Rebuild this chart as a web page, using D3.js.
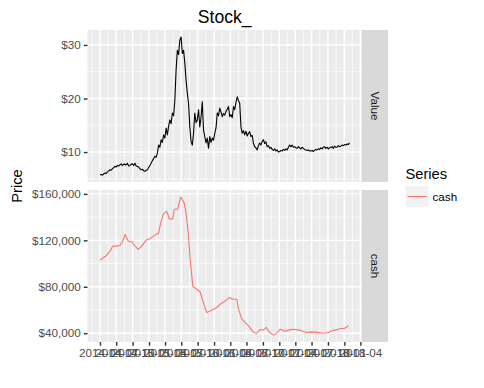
<!DOCTYPE html>
<html>
<head>
<meta charset="utf-8">
<script src="https://cdn.jsdelivr.net/npm/d3@7"></script>
<style>
  body { margin: 0; background: #fff; }
  text { font-family: "Liberation Sans", Arial, sans-serif; }
</style>
</head>
<body>
<svg id="chart" width="484" height="388"></svg>
<script>
// weekly closing value, starting 2014-04-01
var valueStart = "2014-04-01";
var valueWeekly = [
  5.75, 5.8, 5.7, 5.95, 6.1, 6.0, 6.3, 6.5, 6.7, 6.6, 6.9, 7.1, 7.3,
  7.2, 7.5, 7.4, 7.6, 7.8, 7.5, 7.7, 7.75, 7.6, 7.9, 7.4, 7.5,
  7.7, 7.8, 7.5, 7.9, 7.4, 7.3, 7.2, 6.9, 6.7, 6.8, 6.5, 6.4,
  6.6, 6.7, 7.1, 7.5, 7.9, 8.4, 8.8, 9.2, 9.0, 9.8, 11.3, 10.9,
  12.3, 11.8, 13.2, 12.6, 14.5, 13.2, 14.8, 16.0, 15.3, 17.3, 16.8, 19.7,
  25.3, 29.0, 28.2, 30.9, 31.5, 28.4, 29.0, 26.6, 23.4, 21.0, 19.1, 14.7,
  12.0, 11.3, 13.5, 17.3, 15.5, 16.0, 17.9, 14.7, 16.5, 19.4, 14.1, 12.9,
  11.7, 12.6, 10.7, 12.9, 11.8, 12.6, 12.2, 13.5, 14.5, 17.3, 16.8, 18.2,
  17.5, 16.6, 17.2, 16.9, 17.6, 18.0, 18.5, 16.6, 17.0, 16.4, 18.5, 17.9,
  19.3, 20.3, 19.6, 19.1, 14.7, 13.5, 14.0, 13.2, 13.9, 13.0, 13.5, 13.8,
  12.9, 13.1, 11.6, 11.0, 10.8, 10.4, 11.2, 11.7, 11.3, 12.0, 12.3, 11.6,
  11.9, 11.0, 11.2, 10.7, 10.9, 10.5, 10.3, 10.6, 10.2, 10.4, 10.0, 10.1,
  10.3, 10.2, 10.5, 10.3, 10.6, 10.4, 10.9, 11.3, 11.0, 11.3, 10.9, 11.0,
  10.8, 10.7, 11.0, 10.8, 10.6, 10.9, 10.7, 10.5, 10.4, 10.3, 10.4, 10.2,
  10.2, 10.3, 10.1, 10.3, 10.5, 10.4, 10.6, 10.5, 10.8, 10.6, 10.9, 11.0,
  10.7, 10.9, 10.6, 10.8, 10.9, 11.0, 10.7, 11.1, 10.9, 10.9, 11.2, 11.0,
  11.1, 11.3, 11.2, 11.4, 11.3, 11.5, 11.4, 11.7
];

var cashDates = [
  "2014-04-01", "2014-04-19", "2014-05-08", "2014-05-27", "2014-06-11", "2014-07-04",
  "2014-07-22", "2014-08-07", "2014-08-19", "2014-09-07", "2014-09-26", "2014-10-15",
  "2014-11-02", "2014-11-21", "2014-12-16", "2015-01-07", "2015-01-26", "2015-02-14",
  "2015-02-23", "2015-03-08", "2015-03-23", "2015-04-11", "2015-04-25", "2015-05-14",
  "2015-05-22", "2015-06-11", "2015-06-28", "2015-07-17", "2015-07-28", "2015-08-10",
  "2015-08-20", "2015-09-04", "2015-09-26", "2015-10-15", "2015-11-02", "2015-11-21",
  "2015-12-10", "2015-12-29", "2016-01-17", "2016-02-04", "2016-03-03", "2016-03-27",
  "2016-04-15", "2016-05-08", "2016-05-17", "2016-06-05", "2016-07-12", "2016-08-10",
  "2016-08-29", "2016-09-12", "2016-10-05", "2016-10-20", "2016-11-07", "2016-11-30",
  "2016-12-22", "2017-01-06", "2017-02-03", "2017-02-27", "2017-03-21", "2017-04-24",
  "2017-06-04", "2017-07-03", "2017-07-31", "2017-09-06", "2017-10-04", "2017-10-23",
  "2017-11-16", "2017-12-09", "2017-12-31", "2018-01-24"
];
var cashValues = [
  103000, 105000, 107000, 110700, 115000, 115000,
  115600, 119300, 125000, 119300, 118800, 115000,
  112200, 115000, 120200, 121400, 123600, 125700,
  125700, 135000, 142800, 145000, 138500, 138500,
  146500, 147100, 157400, 152300, 143700, 125000,
  103600, 80200, 77900, 75500, 66400, 57900,
  59200, 60700, 62100, 65000, 67800, 70700,
  69300, 69300, 60700, 52100, 46400, 40700,
  40000, 42900, 42900, 45000, 40700, 38400,
  40700, 43500, 41800, 42900, 43500, 42700,
  40700, 41200, 40700, 40000, 40700, 42100,
  42900, 44100, 44100, 46400
];

var xTicks = [
  "2014-04", "2014-07", "2014-10", "2015-01", "2015-04", "2015-07", "2015-10",
  "2016-01", "2016-04", "2016-07", "2016-10", "2017-01", "2017-04", "2017-07",
  "2017-10", "2018-01", "2018-04"
];
var valueTicks = [10, 20, 30];
var cashTicks = [40000, 80000, 120000, 160000];

var parse = d3.timeParse("%Y-%m-%d");
var parseMonth = d3.timeParse("%Y-%m");
var start = parse(valueStart);

var valueData = valueWeekly.map(function(v, i) {
  return { date: d3.timeDay.offset(start, 7 * i), value: v };
});
var cashData = cashDates.map(function(d, i) {
  return { date: parse(d), value: cashValues[i] };
});
var tickDates = xTicks.map(parseMonth);

var svg = d3.select("#chart");
var left = 87.5, right = 362, stripW = 26;
var panels = [
  { key: "Value", data: valueData, top: 30, bottom: 182, ticks: valueTicks,
    color: "#000000", fmt: d3.format("$,") },
  { key: "cash", data: cashData, top: 190, bottom: 342, ticks: cashTicks,
    color: "#F8766D", fmt: d3.format("$,") }
];

// shared x scale with ggplot-style 5% expansion
var allDates = valueData.concat(cashData).map(function(d) { return d.date; });
var ext = d3.extent(allDates);
var span = ext[1] - ext[0];
var x = d3.scaleTime()
    .domain([new Date(+ext[0] - span * 0.05), new Date(+ext[1] + span * 0.05)])
    .range([left, right]);

var minorX = tickDates.slice(0, -1).map(function(d, i) {
  return new Date((+d + +tickDates[i + 1]) / 2);
});
minorX.unshift(new Date(+tickDates[0] - (tickDates[1] - tickDates[0]) / 2));

panels.forEach(function(p) {
  var ve = d3.extent(p.data, function(d) { return d.value; });
  var vs = ve[1] - ve[0];
  var y = d3.scaleLinear()
      .domain([ve[0] - vs * 0.05, ve[1] + vs * 0.05])
      .range([p.bottom, p.top]);
  var step = p.ticks[1] - p.ticks[0];
  var minorY = [p.ticks[0] - step / 2].concat(p.ticks.map(function(t) { return t + step / 2; }))
      .filter(function(t) { return t > y.domain()[0] && t < y.domain()[1]; });

  var g = svg.append("g");
  g.append("rect")
      .attr("x", left).attr("y", p.top)
      .attr("width", right - left).attr("height", p.bottom - p.top)
      .attr("fill", "#EBEBEB");

  g.selectAll(".minx").data(minorX.filter(function(d) { return x(d) > left && x(d) < right; }))
    .join("line")
      .attr("x1", function(d) { return x(d); }).attr("x2", function(d) { return x(d); })
      .attr("y1", p.top).attr("y2", p.bottom)
      .attr("stroke", "#fff").attr("stroke-width", 0.7);
  g.selectAll(".miny").data(minorY)
    .join("line")
      .attr("x1", left).attr("x2", right)
      .attr("y1", function(d) { return y(d); }).attr("y2", function(d) { return y(d); })
      .attr("stroke", "#fff").attr("stroke-width", 0.7);
  g.selectAll(".majx").data(tickDates.filter(function(d) { return x(d) >= left && x(d) <= right; }))
    .join("line")
      .attr("x1", function(d) { return x(d); }).attr("x2", function(d) { return x(d); })
      .attr("y1", p.top).attr("y2", p.bottom)
      .attr("stroke", "#fff").attr("stroke-width", 1.4);
  g.selectAll(".majy").data(p.ticks)
    .join("line")
      .attr("x1", left).attr("x2", right)
      .attr("y1", function(d) { return y(d); }).attr("y2", function(d) { return y(d); })
      .attr("stroke", "#fff").attr("stroke-width", 1.4);

  g.append("path")
      .datum(p.data)
      .attr("fill", "none")
      .attr("stroke", p.color)
      .attr("stroke-width", 1.1)
      .attr("stroke-linejoin", "round")
      .attr("d", d3.line()
          .x(function(d) { return x(d.date); })
          .y(function(d) { return y(d.value); }));

  // y axis
  var ya = g.append("g")
      .attr("transform", "translate(" + left + ",0)")
      .call(d3.axisLeft(y).tickValues(p.ticks).tickFormat(p.fmt).tickSize(3.7).tickPadding(3));
  ya.select(".domain").remove();
  ya.selectAll("line").attr("stroke", "#333333").attr("stroke-width", 1.4);
  ya.selectAll("text").attr("fill", "#4D4D4D").style("font-size", "11.7px")
      .style("font-family", "'Liberation Sans', Arial, sans-serif");

  // strip
  g.append("rect")
      .attr("x", right).attr("y", p.top)
      .attr("width", stripW).attr("height", p.bottom - p.top)
      .attr("fill", "#D9D9D9");
  g.append("text")
      .attr("transform", "translate(" + (right + stripW / 2) + "," + ((p.top + p.bottom) / 2) + ") rotate(90)")
      .attr("text-anchor", "middle")
      .attr("dy", "0.35em")
      .attr("fill", "#1A1A1A")
      .style("font-size", "11.7px")
      .text(p.key);
});

// x axis under bottom panel
var xa = svg.append("g")
    .attr("transform", "translate(0," + panels[1].bottom + ")")
    .call(d3.axisBottom(x).tickValues(tickDates).tickFormat(d3.timeFormat("%Y-%m")).tickSize(3.7).tickPadding(3));
xa.select(".domain").remove();
xa.selectAll("line").attr("stroke", "#333333").attr("stroke-width", 1.4);
xa.selectAll("text").attr("fill", "#4D4D4D").style("font-size", "11.7px")
    .style("font-family", "'Liberation Sans', Arial, sans-serif");

// title and axis label
svg.append("text")
    .attr("x", (left + right) / 2)
    .attr("y", 22.5)
    .attr("text-anchor", "middle")
    .attr("fill", "#000")
    .style("font-size", "17.6px")
    .text("Stock_");

svg.append("text")
    .attr("transform", "translate(22," + ((panels[0].top + panels[1].bottom) / 2) + ") rotate(-90)")
    .attr("text-anchor", "middle")
    .attr("fill", "#000")
    .style("font-size", "14.7px")
    .text("Price");

// legend
var lg = svg.append("g").attr("transform", "translate(405.5,0)");
lg.append("text")
    .attr("x", 0).attr("y", 179)
    .attr("fill", "#000")
    .style("font-size", "14.7px")
    .text("Series");
lg.append("rect")
    .attr("x", 0).attr("y", 186)
    .attr("width", 23).attr("height", 21)
    .attr("fill", "#F2F2F2");
lg.append("line")
    .attr("x1", 2).attr("x2", 21)
    .attr("y1", 196.5).attr("y2", 196.5)
    .attr("stroke", "#F8766D").attr("stroke-width", 1.1);
lg.append("text")
    .attr("x", 27).attr("y", 196.5)
    .attr("dy", "0.35em")
    .attr("fill", "#000")
    .style("font-size", "11.7px")
    .text("cash");
</script>
</body>
</html>
